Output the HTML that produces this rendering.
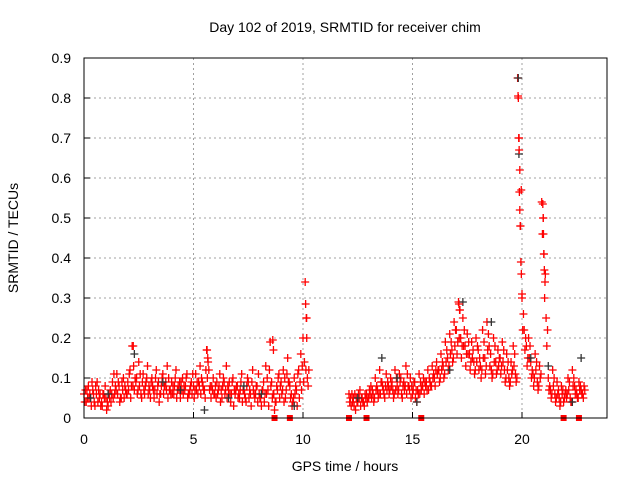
<!DOCTYPE html>
<html><head><meta charset="utf-8"><style>
body{margin:0;background:#fff}
svg{display:block;font-family:"Liberation Sans",sans-serif}
</style></head><body>
<svg id="chart" width="640" height="480">
<rect width="640" height="480" fill="#fff"/>
<text x="345" y="32" text-anchor="middle" font-size="14">Day 102 of 2019, SRMTID for receiver chim</text>
<text transform="translate(18,238) rotate(-90)" text-anchor="middle" font-size="14">SRMTID / TECUs</text>
<text x="345" y="471" text-anchor="middle" font-size="14">GPS time / hours</text>
<g id="grid"></g><g id="marks"></g><g id="axes"></g>
</svg>
<script>
const xTicks=[0,5,10,15,20];
const yTicks=[0,0.1,0.2,0.3,0.4,0.5,0.6,0.7,0.8,0.9];
const yTickLabels=["0","0.1","0.2","0.3","0.4","0.5","0.6","0.7","0.8","0.9"];
const segAStart=0, segBStart=12.1;
const segAHi=[.06,.04,.08,.05,.07,.03,.09,.05,.04,.06,.05,.03,.07,.09,.06,.11,.08,.05,.10,.07,.09,.12,.18,.07,.10,.14,.06,.11,.08,.13,.07,.10,.05,.12,.09,.06,.11,.08,.13,.07,.09,.06,.12,.08,.05,.10,.07,.11,.06,.09,.08,.11,.06,.13,.09,.07,.17,.12,.05,.10,.08,.06,.11,.05,.09,.13,.07,.04,.10,.06,.08,.05,.11,.07,.04,.09,.06,.12,.05,.08,.06,.03,.09,.13,.07,.19,.05,.02,.08,.11,.09,.12,.05,.15,.08,.03,.10,.07,.12,.16,.20,.34,.10];
const segALo=[.04,.07,.05,.03,.06,.08,.04,.06,.03,.05,.02,.06,.04,.05,.08,.06,.04,.09,.05,.06,.07,.05,.08,.10,.06,.08,.05,.07,.09,.06,.05,.08,.07,.06,.04,.08,.06,.09,.05,.07,.06,.08,.05,.07,.09,.06,.08,.05,.07,.06,.05,.07,.09,.06,.08,.05,.10,.07,.08,.06,.05,.07,.04,.08,.06,.05,.09,.06,.03,.07,.05,.07,.04,.06,.08,.05,.03,.07,.06,.04,.05,.07,.04,.06,.03,.08,.06,.04,.07,.05,.06,.04,.07,.09,.05,.04,.06,.03,.05,.07,.09,.12,.08];
const segAMid=[.07,.05,.06,.09,.04,.06,.07,.03,.06,.08,.04,.05,.06,.11,.07,.09,.05,.07,.08,.06,.11,.08,.13,.09,.07,.11,.09,.06,.10,.08,.09,.07,.10,.08,.06,.10,.08,.07,.10,.06,.08,.10,.07,.09,.07,.08,.10,.06,.08,.11,.07,.09,.08,.10,.07,.12,.14,.08,.07,.06,.09,.08,.07,.10,.07,.08,.06,.09,.07,.08,.06,.09,.07,.05,.10,.07,.09,.06,.08,.11,.05,.07,.06,.10,.12,.09,.06,.04,.10,.08,.07,.10,.11,.09,.06,.05,.08,.11,.09,.13,.14,.25,.12];
const segBHi=[.06,.03,.05,.02,.04,.07,.05,.03,.06,.05,.08,.06,.10,.07,.12,.09,.06,.11,.08,.10,.07,.12,.08,.11,.06,.09,.13,.08,.10,.06,.09,.04,.11,.07,.10,.08,.12,.09,.13,.10,.14,.12,.16,.13,.19,.15,.21,.17,.24,.22,.29,.20,.25,.18,.21,.16,.19,.14,.20,.17,.13,.22,.15,.24,.18,.12,.20,.14,.17,.15,.19,.12,.16,.10,.14,.18,.11,.85,.62,.30,.22,.18,.20,.14,.11,.16,.09,.13,.54,.41,.25,.10,.07,.12,.06,.09,.05,.08,.04,.07,.10,.05,.12,.08,.06,.09,.07,.05];
const segBLo=[.04,.06,.03,.05,.06,.03,.04,.06,.04,.07,.05,.04,.07,.05,.06,.08,.05,.07,.06,.08,.05,.07,.06,.09,.05,.07,.06,.08,.05,.07,.05,.07,.06,.08,.06,.09,.07,.08,.10,.08,.11,.09,.12,.10,.14,.12,.16,.14,.18,.16,.20,.15,.18,.13,.16,.12,.15,.11,.14,.12,.10,.15,.11,.17,.13,.10,.14,.11,.13,.11,.14,.09,.12,.08,.11,.13,.09,.80,.48,.22,.17,.13,.15,.10,.08,.12,.07,.10,.46,.30,.18,.07,.05,.08,.04,.06,.03,.06,.05,.05,.07,.04,.08,.06,.05,.07,.06,.08];
const segBMid=[.05,.04,.06,.04,.05,.05,.04,.05,.05,.06,.07,.05,.08,.06,.09,.07,.08,.09,.07,.09,.06,.10,.07,.10,.08,.08,.11,.07,.08,.09,.07,.06,.09,.08,.09,.07,.10,.08,.11,.12,.12,.10,.14,.11,.17,.13,.19,.15,.22,.19,.27,.18,.22,.16,.19,.14,.17,.12,.18,.15,.12,.19,.13,.21,.16,.11,.18,.12,.15,.13,.17,.10,.14,.09,.12,.16,.10,.70,.57,.26,.20,.15,.18,.12,.10,.14,.08,.11,.50,.36,.22,.08,.06,.10,.05,.07,.04,.07,.06,.06,.09,.04,.10,.07,.05,.08,.06,.07];
const spikeTimes=[19.82,19.85,19.87,19.88,19.9,19.92,19.95,19.97,20.0,20.95,20.97,20.98,21.0,21.02,21.05,10.12,10.15,10.17,2.25,8.62,8.65,5.62,5.65,17.12,17.15];
const spikeVals=[.805,.70,.67,.565,.52,.48,.39,.36,.31,.535,.50,.46,.41,.37,.34,.285,.25,.20,.18,.195,.17,.17,.15,.285,.27];
const blackTimes=[0.3,1.1,2.3,3.6,4.4,5.5,6.6,7.3,8.1,9.6,12.5,13.6,14.3,15.2,16.7,17.3,18.6,19.83,19.86,20.4,21.2,22.3,22.7];
const blackVals=[.05,.06,.16,.09,.07,.02,.05,.08,.06,.03,.05,.15,.10,.04,.12,.29,.24,.85,.66,.15,.13,.04,.15];
const flagTimes=[8.7,9.4,12.1,12.9,15.4,21.9,22.6];

const X=t=>84+t*21.9, Y=v=>418-v*400;
const NS="http://www.w3.org/2000/svg";
function mk(tag,attrs,parent){const e=document.createElementNS(NS,tag);for(const k in attrs)e.setAttribute(k,attrs[k]);parent.appendChild(e);return e;}
const grid=document.getElementById('grid'),marks=document.getElementById('marks'),axes=document.getElementById('axes');
yTicks.forEach((v,i)=>{
  if(i>0){const g=mk('line',{x1:84,x2:607,y1:Y(v),y2:Y(v),stroke:'#a0a0a0','stroke-dasharray':'2,3'},grid);
  
  }
  const tk=mk('line',{x1:84,x2:90,y1:Y(v),y2:Y(v),stroke:'#000'},axes);
  
  
  const t=mk('text',{x:71,y:Y(v)+5,'text-anchor':'end','font-size':14},axes);t.textContent=yTickLabels[i];
  
  
});
xTicks.forEach(v=>{
  if(v>0){const g=mk('line',{x1:X(v),x2:X(v),y1:58,y2:418,stroke:'#a0a0a0','stroke-dasharray':'2,3'},grid);
  
  }
  const tk=mk('line',{x1:X(v),x2:X(v),y1:418,y2:412,stroke:'#000'},axes);
  
  
  const t=mk('text',{x:X(v),y:444,'text-anchor':'middle','font-size':14},axes);t.textContent=v;
  
  
});
const frame=mk('rect',{x:84,y:58,width:523,height:360,fill:'none',stroke:'#000'},axes);


function plus(t,v,col,name){
  const x=X(t),y=Y(v);
  const p=mk('path',{d:`M${x-4} ${y}H${x+4}M${x} ${y-4}V${y+4}`,stroke:col,'stroke-width':1.3,fill:'none'},marks);
  
  
}
[[segAStart,segALo,0.033],[segBStart,segBLo,0.033],[segAStart,segAMid,0.066],[segBStart,segBMid,0.066],[segAStart,segAHi,0],[segBStart,segBHi,0]].forEach(([s,arr,o])=>{
  arr.forEach((v,i)=>plus(s+i*0.1+o,v,'#ff0000','srmtid-point'));
});
blackTimes.forEach((t,i)=>plus(t,blackVals[i],'#333','srmtid-point-black'));
spikeTimes.forEach((t,i)=>plus(t,spikeVals[i],'#ff0000','srmtid-spike-point'));
flagTimes.forEach(t=>{
  const r=mk('rect',{x:X(t)-3,y:415,width:6,height:6,fill:'#ff0000'},marks);
  
  
});
</script>
</body></html>
